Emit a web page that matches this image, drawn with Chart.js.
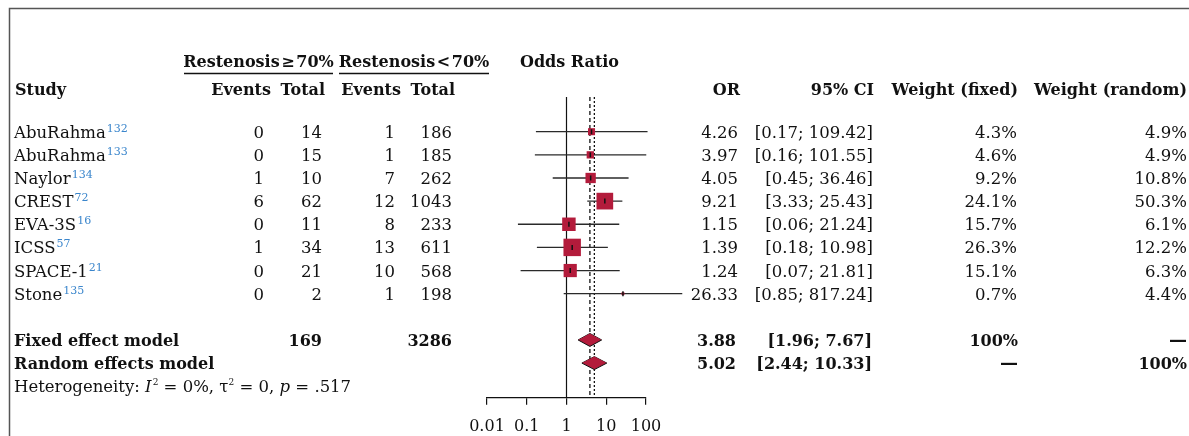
<!DOCTYPE html>
<html><head><meta charset="utf-8">
<script src="https://cdn.jsdelivr.net/npm/chart.js@4.4.1/dist/chart.umd.min.js"></script>
<style>html,body{margin:0;padding:0;background:#fff;overflow:hidden}#wrap{width:1189px;height:436px;position:relative}</style>
</head><body><div id="wrap"><canvas id="c"></canvas></div>
<script>
// ---- data ----
const studies = ['AbuRahma','AbuRahma','Naylor','CREST','EVA-3S','ICSS','SPACE-1','Stone'];
const refs = ['132','133','134','72','16','57','21','135'];
const eventsHigh = [0,0,1,6,0,1,0,0];
const totalHigh = [14,15,10,62,11,34,21,2];
const eventsLow = [1,1,7,12,8,13,10,1];
const totalLow = [186,185,262,1043,233,611,568,198];
const orValues = [4.26,3.97,4.05,9.21,1.15,1.39,1.24,26.33];
const ciLower = [0.17,0.16,0.45,3.33,0.06,0.18,0.07,0.85];
const ciUpper = [109.42,101.55,36.46,25.43,21.24,10.98,21.81,817.24];
const weightFixed = [4.3,4.6,9.2,24.1,15.7,26.3,15.1,0.7];
const weightRandom = [4.9,4.9,10.8,50.3,6.1,12.2,6.3,4.4];
const modelNames = ['Fixed effect model','Random effects model'];
const modelOR = [3.88,5.02];
const modelLower = [1.96,2.44];
const modelUpper = [7.67,10.33];
const modelWeightFixed = ['100%','\u2014'];
const modelWeightRandom = ['\u2014','100%'];
const summaryTotals = [169,3286];
const heterogeneity = {I2:'0%', tau2:'0', p:'.517'};
const xTicks = [0.01,0.1,1,10,100];
const xTickLabels = ['0.01','0.1','1','10','100'];

// ---- layout helpers ----
const studyRows = studies.map((s,i)=>i);
const modelRows = [9,10];
const RED = '#B31B3B', INK = '#111', BLUE = '#3B86CC';
const FONT = 'DejaVu Serif';
const FS = 16.5;

const datasets = [];
datasets.push({type:'line', data:[{x:1,y:-1.5},{x:1,y:11.5}], borderColor:INK, borderWidth:1.2, pointRadius:0, order:60});
datasets.push({type:'line', data:[{x:modelOR[0],y:-1.5},{x:modelOR[0],y:11.5}], borderColor:INK, borderWidth:1.3, borderDash:[4,3], pointRadius:0, order:61});
datasets.push({type:'line', data:[{x:modelOR[1],y:-1.5},{x:modelOR[1],y:11.5}], borderColor:INK, borderWidth:1.3, borderDash:[2,2], pointRadius:0, order:62});
studyRows.forEach(i=>{
  datasets.push({type:'line', data:[{x:ciLower[i],y:i},{x:ciUpper[i],y:i}], borderColor:'#2a2a2a', borderWidth:1.3, pointRadius:0, clip:false, order:40});
});
datasets.push({type:'scatter', data:studyRows.map(i=>({x:orValues[i],y:i})), pointStyle:'rect',
  pointRadius:studyRows.map(i=>3.4*Math.sqrt(weightFixed[i])/Math.SQRT2), backgroundColor:RED, borderWidth:0, clip:false, order:30});
datasets.push({type:'scatter', data:studyRows.map(i=>({x:orValues[i],y:i})), pointStyle:'line', rotation:90,
  pointRadius:2.5, borderColor:INK, borderWidth:1.5, clip:false, order:20});
modelRows.forEach((r,k)=>{
  const h = 0.28;
  datasets.push({type:'line', data:[{x:modelLower[k],y:r},{x:modelOR[k],y:r-h},{x:modelUpper[k],y:r}], borderColor:INK, borderWidth:1, pointRadius:0, backgroundColor:RED, fill:false, order:11});
  datasets.push({type:'line', data:[{x:modelLower[k],y:r},{x:modelOR[k],y:r+h},{x:modelUpper[k],y:r}], borderColor:INK, borderWidth:1, pointRadius:0, backgroundColor:RED, fill:'-1', order:10});
});

function txt(ctx, s, x, y, o={}){
  ctx.save();
  ctx.font = `${o.italic?'italic ':''}${o.bold?'bold ':''}${o.size||FS}px "${FONT}"`;
  ctx.fillStyle = o.color||INK;
  ctx.textAlign = o.align||'left';
  ctx.textBaseline = 'alphabetic';
  ctx.fillText(s, x, y);
  const w = ctx.measureText(s).width;
  ctx.restore();
  return w;
}

const tablePlugin = {
  id:'table',
  afterDraw(chart){
    const ctx = chart.ctx;
    const ys = chart.scales.y;
    const rowY = r => ys.getPixelForValue(r) + 6;
    // frame
    ctx.save(); ctx.strokeStyle='#555'; ctx.lineWidth=1.5;
    ctx.beginPath(); ctx.moveTo(9.5,436); ctx.lineTo(9.5,8.5); ctx.lineTo(1189,8.5); ctx.stroke(); ctx.restore();
    // headers
    const hb = 67, hb2 = 95;
    txt(ctx,'Restenosis\u200A\u2265\u200A70%',258.5,hb,{bold:true,align:'center',size:16});
    txt(ctx,'Restenosis\u200A<\u200A70%',414,hb,{bold:true,align:'center',size:16});
    txt(ctx,'Odds Ratio',569.5,hb,{bold:true,align:'center',size:16});
    ctx.save(); ctx.strokeStyle=INK; ctx.lineWidth=1.3; ctx.beginPath();
    ctx.moveTo(184,73.5); ctx.lineTo(333,73.5); ctx.moveTo(339,73.5); ctx.lineTo(489,73.5); ctx.stroke(); ctx.restore();
    const hs = {bold:true,align:'right',size:16};
    txt(ctx,'Study',15,hb2,{bold:true,size:16});
    txt(ctx,'Events',271,hb2,hs);
    txt(ctx,'Total',325,hb2,hs);
    txt(ctx,'Events',401,hb2,hs);
    txt(ctx,'Total',455,hb2,hs);
    txt(ctx,'OR',740,hb2,hs);
    txt(ctx,'95% CI',874,hb2,hs);
    txt(ctx,'Weight (fixed)',1018,hb2,hs);
    txt(ctx,'Weight (random)',1187,hb2,hs);
    // study rows
    studyRows.forEach(i=>{
      const y = rowY(i);
      const w = txt(ctx,studies[i],14,y);
      txt(ctx,refs[i],14+w+1,y-6,{size:11,color:BLUE});
      txt(ctx,String(eventsHigh[i]),264,y,{align:'right'});
      txt(ctx,String(totalHigh[i]),322,y,{align:'right'});
      txt(ctx,String(eventsLow[i]),395,y,{align:'right'});
      txt(ctx,String(totalLow[i]),452,y,{align:'right'});
      txt(ctx,orValues[i].toFixed(2),738,y,{align:'right'});
      txt(ctx,`[${ciLower[i].toFixed(2)}; ${ciUpper[i].toFixed(2)}]`,873,y,{align:'right'});
      txt(ctx,weightFixed[i].toFixed(1)+'%',1017,y,{align:'right'});
      txt(ctx,weightRandom[i].toFixed(1)+'%',1187,y,{align:'right'});
    });
    const dashSize = s => s==='\u2014' ? 18 : 16;
    modelRows.forEach((r,k)=>{
      const y = rowY(r);
      const bs = {bold:true,size:16};
      txt(ctx,modelNames[k],14,y,bs);
      if(k===0){
        txt(ctx,String(summaryTotals[0]),322,y,{...bs,align:'right'});
        txt(ctx,String(summaryTotals[1]),452,y,{...bs,align:'right'});
      }
      txt(ctx,modelOR[k].toFixed(2),736,y,{...bs,align:'right'});
      txt(ctx,`[${modelLower[k].toFixed(2)}; ${modelUpper[k].toFixed(2)}]`,872,y,{...bs,align:'right'});
      txt(ctx,modelWeightFixed[k],1018,y,{...bs,align:'right',size:dashSize(modelWeightFixed[k])});
      txt(ctx,modelWeightRandom[k],1187,y,{...bs,align:'right',size:dashSize(modelWeightRandom[k])});
    });
    // heterogeneity
    let x = 14; const y = rowY(11);
    x += txt(ctx,'Heterogeneity: ',x,y);
    x += txt(ctx,'I',x,y,{italic:true});
    x += txt(ctx,'2',x+1,y-7,{size:9});
    x += txt(ctx,' = '+heterogeneity.I2+', \u03C4',x+1,y);
    x += txt(ctx,'2',x+1,y-7,{size:9});
    x += txt(ctx,' = '+heterogeneity.tau2+', ',x+1,y);
    x += txt(ctx,'p',x+1,y,{italic:true});
    txt(ctx,' = '+heterogeneity.p,x+1,y);
  }
};

new Chart(document.getElementById('c'), {
  type:'line',
  data:{datasets},
  options:{
    responsive:true, maintainAspectRatio:false, animation:false,
    layout:{padding:{left:487,right:543,top:97,bottom:-12}},
    plugins:{legend:{display:false}, tooltip:{enabled:false}},
    scales:{
      x:{type:'logarithmic', min:0.01, max:100,
        afterBuildTicks:(s)=>{ s.ticks = xTicks.map(v=>({value:v})); },
        ticks:{callback:(v,i)=>xTickLabels[i], font:{family:FONT,size:16}, color:INK, padding:12, maxRotation:0, autoSkip:false},
        grid:{drawOnChartArea:false, drawTicks:true, tickLength:7, color:INK, lineWidth:1.2},
        border:{display:true, color:INK, width:1.2}},
      y:{type:'linear', min:-1.5, max:11.5, reverse:true, display:false}
    }
  },
  plugins:[tablePlugin]
});
</script></body></html>
